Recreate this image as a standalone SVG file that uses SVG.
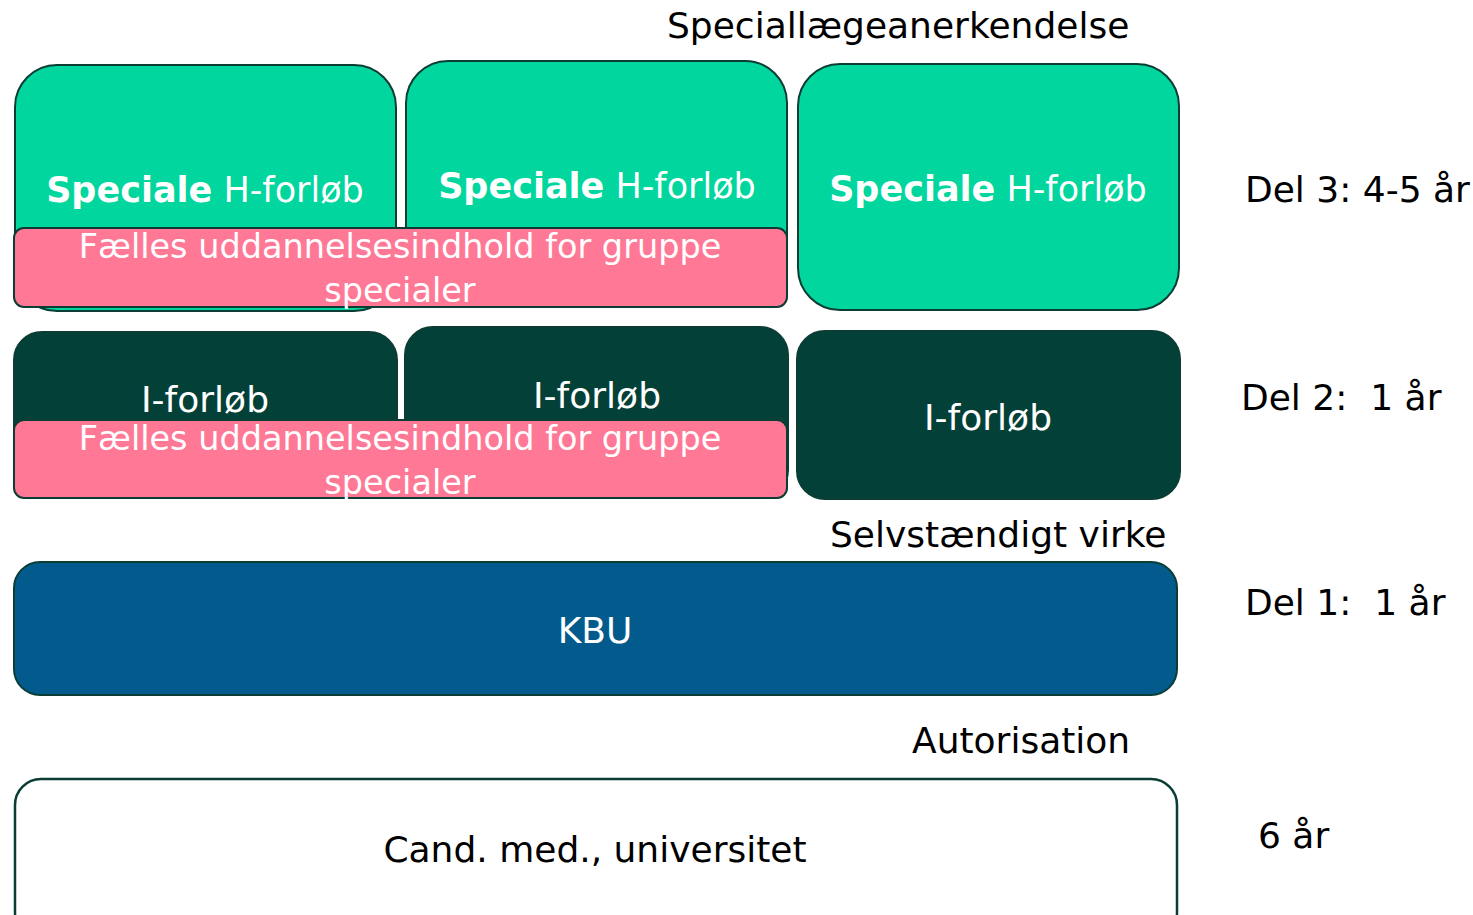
<svg xmlns="http://www.w3.org/2000/svg" width="1473" height="915" viewBox="0 0 1473 915">
<style>
text{font-family:"DejaVu Sans",sans-serif;font-size:36px}
.w{fill:#ffffff}
.k{fill:#000000}
.m{text-anchor:middle}
.g{fill:#00d69d;stroke:#0b3d35;stroke-width:2}
.d{fill:#034037;stroke:#0b3d35;stroke-width:2}
.p{fill:#ff7896;stroke:#0b3d35;stroke-width:2}
.b{fill:#025b8c;stroke:#0b3d35;stroke-width:2}
.c{fill:#ffffff;stroke:#0b3d35;stroke-width:2.5}
.pt{font-size:33.5px}
.hb{font-size:35px}
</style>
<rect width="1473" height="915" fill="#ffffff"/>
<g id="labels">
<text class="k" x="667" y="38">Speciallægeanerkendelse</text>
<text class="k" x="830" y="547">Selvstændigt virke</text>
<text class="k" x="912" y="753">Autorisation</text>
<text class="k" x="1245" y="202">Del 3: 4-5 år</text>
<text class="k" x="1241" y="410" xml:space="preserve">Del 2:  1 år</text>
<text class="k" x="1245" y="615" xml:space="preserve">Del 1:  1 år</text>
<text class="k" x="1258" y="848">6 år</text>
</g>
<g id="h1"><rect class="g" x="15" y="65" width="381" height="246" rx="42"/><text class="w m hb" x="205" y="202"><tspan font-weight="bold">Speciale</tspan> H-forløb</text></g>
<g id="h2"><rect class="g" x="406" y="61" width="381" height="246" rx="42"/><text class="w m hb" x="597" y="198"><tspan font-weight="bold">Speciale</tspan> H-forløb</text></g>
<g id="h3"><rect class="g" x="798" y="64" width="381" height="246" rx="42"/><text class="w m hb" x="988" y="201"><tspan font-weight="bold">Speciale</tspan> H-forløb</text></g>
<g id="pink1"><rect class="p" x="14" y="228" width="773" height="79" rx="10"/><text class="w m pt" x="400" y="258">Fælles uddannelsesindhold for gruppe</text><text class="w m pt" x="400" y="302">specialer</text></g>
<g id="i1"><rect class="d" x="14" y="332" width="383" height="166" rx="28"/><text class="w m" x="205" y="412">I-forløb</text></g>
<g id="i2"><rect class="d" x="405" y="327" width="383" height="171" rx="28"/><text class="w m" x="597" y="408">I-forløb</text></g>
<g id="i3"><rect class="d" x="797" y="331" width="383" height="168" rx="28"/><text class="w m" x="988" y="430">I-forløb</text></g>
<g id="pink2"><rect class="p" x="14" y="420" width="773" height="78" rx="10"/><text class="w m pt" x="400" y="450">Fælles uddannelsesindhold for gruppe</text><text class="w m pt" x="400" y="494">specialer</text></g>
<g id="kbu"><rect class="b" x="14" y="562" width="1163" height="133" rx="26"/><text class="w m" x="595" y="643">KBU</text></g>
<g id="cand"><rect class="c" x="15" y="779" width="1162" height="160" rx="26"/><text class="k m" x="595" y="862">Cand. med., universitet</text></g>
<g id="connectors"/>
</svg>
